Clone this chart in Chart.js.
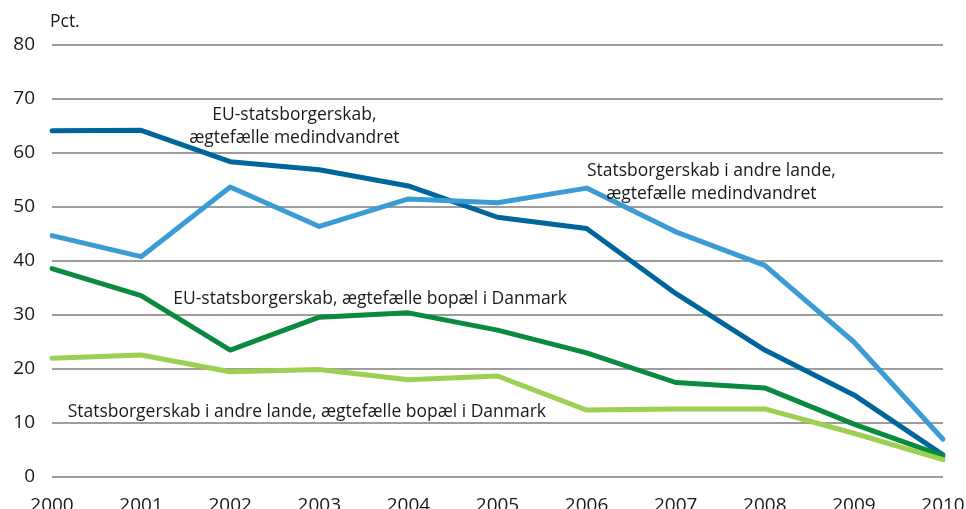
<!DOCTYPE html>
<html>
<head>
<meta charset="utf-8">
<script src="https://cdn.jsdelivr.net/npm/chart.js@4"></script>
<style>
  html, body { margin: 0; padding: 0; background: #fff; }
  #wrap { width: 966px; height: 509px; }
</style>
</head>
<body>
<div id="wrap"><canvas id="myChart" width="966" height="509"></canvas></div>
<script>
// data
const years = ["2000", "2001", "2002", "2003", "2004", "2005", "2006", "2007", "2008", "2009", "2010"];
const euMedindvandret = [64.1, 64.2, 58.4, 56.9, 53.9, 48.1, 46.0, 34.0, 23.5, 15.2, 4.1];
const andreMedindvandret = [44.7, 40.8, 53.7, 46.4, 51.5, 50.8, 53.5, 45.4, 39.2, 25.0, 7.0];
const euBopaelDk = [38.6, 33.6, 23.5, 29.6, 30.4, 27.2, 23.0, 17.5, 16.5, 9.8, 3.9];
const andreBopaelDk = [22.0, 22.6, 19.5, 19.9, 18.0, 18.7, 12.4, 12.6, 12.6, 8.1, 3.2];
const yTicks = [0, 10, 20, 30, 40, 50, 60, 70, 80];

const FONT = "'Open Sans', sans-serif";

// text labels placed in data units (x = year index, y = pct)
const notes = [
  { lines: ["EU-statsborgerskab,", "ægtefælle medindvandret"], x: 2.72, y: 67.2 },
  { lines: ["Statsborgerskab i andre lande,", "ægtefælle medindvandret"], x: 7.4, y: 56.7 },
  { lines: ["EU-statsborgerskab, ægtefælle bopæl i Danmark"], x: 3.57, y: 33.1 },
  { lines: ["Statsborgerskab i andre lande, ægtefælle bopæl i Danmark"], x: 2.86, y: 12.2 }
];

const textPlugin = {
  id: "texts",
  afterDatasetsDraw(chart) {
    const ctx = chart.ctx;
    const xs = chart.scales.x, ys = chart.scales.y;
    ctx.save();
    ctx.fillStyle = "#1a1a1a";
    ctx.font = "19px " + FONT;
    ctx.textAlign = "center";
    ctx.textBaseline = "middle";
    notes.forEach(n => {
      const px = xs.getPixelForValue(n.x);
      const py = ys.getPixelForValue(n.y);
      n.lines.forEach((l, i) => {
        ctx.save();
        ctx.translate(px, py + i * 23);
        ctx.scale(0.92, 1); // narrower face in the original
        ctx.fillText(l, 0, 0);
        ctx.restore();
      });
    });
    ctx.textAlign = "left";
    ctx.save();
    ctx.translate(chart.chartArea.left - 2, 22);
    ctx.scale(0.92, 1);
    ctx.fillText("Pct.", 0, 0);
    ctx.restore();
    ctx.restore();
  }
};

const ds = (label, data, color) => ({
  label, data,
  borderColor: color,
  borderWidth: 5,
  pointRadius: 0,
  tension: 0,
  borderCapStyle: "round",
  borderJoinStyle: "round",
  fill: false
});

new Chart(document.getElementById("myChart"), {
  type: "line",
  data: {
    labels: years,
    datasets: [
      ds("Statsborgerskab i andre lande, ægtefælle bopæl i Danmark", andreBopaelDk, "#9ccf52"),
      ds("EU-statsborgerskab, ægtefælle bopæl i Danmark", euBopaelDk, "#0a8a3e"),
      ds("Statsborgerskab i andre lande, ægtefælle medindvandret", andreMedindvandret, "#3b9bd5"),
      ds("EU-statsborgerskab, ægtefælle medindvandret", euMedindvandret, "#00659a")
    ]
  },
  options: {
    responsive: false,
    animation: false,
    layout: { padding: { left: 0, right: 23, top: 45, bottom: 0 } },
    plugins: { legend: { display: false }, tooltip: { enabled: false } },
    scales: {
      x: {
        offset: false,
        grid: { display: false, drawTicks: false },
        border: { display: false },
        ticks: { color: "#1a1a1a", font: { family: FONT, size: 19 }, padding: 17, maxRotation: 0, autoSkip: false },
        afterFit(s) { s.height = 32; s.paddingLeft = 0; s.paddingRight = 0; }
      },
      y: {
        min: 0, max: 80,
        afterBuildTicks(s) { s.ticks = yTicks.map(v => ({ value: v })); },
        grid: { color: "#9d9d9d", lineWidth: 2, drawTicks: false },
        border: { display: false },
        ticks: { color: "#1a1a1a", font: { family: FONT, size: 19 }, padding: 17 },
        afterFit(s) { s.width = 52; }
      }
    }
  },
  plugins: [textPlugin]
});
</script>
</body>
</html>
